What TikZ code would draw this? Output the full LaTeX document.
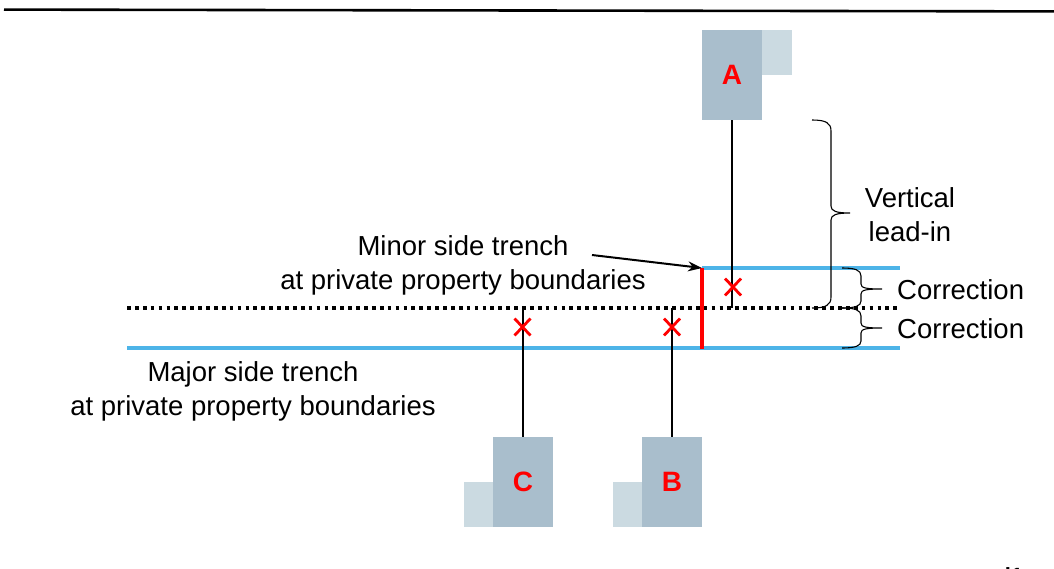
\documentclass[tikz,border=0pt]{standalone}
\usepackage{fontspec}
\setmainfont{Liberation Sans}
\usetikzlibrary{arrows.meta}
\definecolor{boxmain}{RGB}{169,190,204}
\definecolor{boxlight}{RGB}{203,218,225}
\definecolor{trench}{RGB}{77,180,232}
\definecolor{cutred}{RGB}{255,0,0}
\tikzset{
  x=1pt, y=-1pt,
  lbl/.style={font=\fontsize{27.5}{34}\selectfont, align=center, inner sep=0pt},
  house/.style={fill=boxmain, draw=none, minimum width=60pt, minimum height=90pt,
    inner sep=0pt, text=cutred, font=\fontsize{28}{30}\selectfont\bfseries},
  annex/.style={fill=boxlight, draw=none, minimum width=30pt, minimum height=45pt, inner sep=0pt},
  trenchline/.style={trench, line width=4pt},
  cutline/.style={cutred, line width=4pt},
  leadline/.style={black, line width=1.4pt},
  bracket/.style={black, line width=1.1pt},
  xmark/.pic={\draw[cutred, line width=2.8pt] (-8,-8.5) -- (8,8.5) (-8,8.5) -- (8,-8.5);}
}
\begin{document}
\begin{tikzpicture}
\useasboundingbox (0,0) rectangle (1054,568);

% header rule
\draw[line width=2.6pt] (4,9.6) -- (1054,11.4);

% buildings
\node[annex] (Aannex) at (776.5,52.5) {};
\node[house] (A) at (732,75) {A};
\node[annex] (Cannex) at (478.5,504.5) {};
\node[house] (C) at (523,482) {C};
\node[annex] (Bannex) at (627.5,504.5) {};
\node[house] (B) at (672,482) {B};

% reference line and trenches
\coordinate (refL) at (127,308);
\coordinate (refR) at (900,308);
\draw[line width=3.7pt, dash pattern=on 3.7pt off 4.2pt] (refL) -- (refR);
\coordinate (minL) at (702,268);
\coordinate (minR) at (900,268);
\coordinate (majL) at (127,348);
\coordinate (majR) at (900,348);
\draw[trenchline] (minL) -- (minR);
\draw[trenchline] (majL) -- (majR);

% lead-ins from the buildings
\coordinate (Aend) at (A.south |- refL);
\coordinate (Cend) at (C.north |- refL);
\coordinate (Bend) at (B.north |- refL);
\draw[leadline] (A.south) -- (Aend);
\draw[leadline] (C.north) -- (Cend);
\draw[leadline] (B.north) -- (Bend);

% red cut at the property boundary
\coordinate (cutTop) at (702,268);
\coordinate (cutBot) at (702,349);
\draw[cutline] (cutTop) -- (cutBot);

% crossing points
\pic at (733,287) {xmark};
\pic at (522.5,327) {xmark};
\pic at (672,327) {xmark};

% labels
\node[lbl] (minor) at (463,265.5) {Minor side trench\\at private property boundaries};
\node[lbl] (major) at (253,391) {Major side trench\\at private property boundaries};
\coordinate (minorTail) at (592,255);
\draw[line width=2pt, -{Stealth[length=14pt,width=10pt]}] (minorTail) -- (cutTop);

% brackets
\draw[bracket] (812,120) .. controls (826,120) and (831,123) .. (831,131) -- (831,206)
  .. controls (831,211) and (836,213) .. (850,213)
  .. controls (836,213) and (831,215) .. (831,220) -- (831,297)
  .. controls (831,305) and (826,308) .. (812,308);
\draw[bracket] (842,268) .. controls (855,268) and (861,270) .. (861,276) -- (861,284)
  .. controls (861,288) and (866,289) .. (882,289)
  .. controls (866,289) and (861,290) .. (861,294) -- (861,301)
  .. controls (861,306) and (855,308) .. (842,308);
\draw[bracket] (842,308) .. controls (855,308) and (861,310) .. (861,316) -- (861,323)
  .. controls (861,327) and (866,328) .. (882,328)
  .. controls (866,328) and (861,329) .. (861,333) -- (861,341)
  .. controls (861,346) and (855,348) .. (842,348);

\node[lbl] (lead) at (910,215) {Vertical\\lead-in};
\node[lbl, anchor=west] (corr1) at (897,290) {Correction};
\node[lbl, anchor=west] (corr2) at (897,329) {Correction};

% page number, cut by the page edge
\begin{scope}
\clip (0,0) rectangle (1054,568);
\node[anchor=base, inner sep=0pt, font=\fontsize{22}{24}\selectfont\bfseries] (pagenum) at (1014,583) {i1};
\end{scope}
\end{tikzpicture}
\end{document}
